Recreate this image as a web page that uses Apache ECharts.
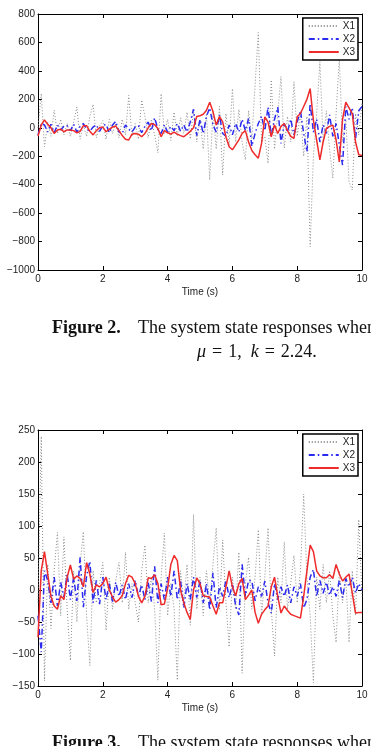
<!DOCTYPE html>
<html>
<head>
<meta charset="utf-8">
<script src="https://cdn.jsdelivr.net/npm/echarts@6/dist/echarts.min.js"></script>
<style>
  html, body { margin: 0; padding: 0; background: #fff; }
  #main { width: 371px; height: 746px; }
</style>
</head>
<body>
<div id="main"></div>
<script>
// sample times (s), shared by every series
const time = [
  0.0, 0.1, 0.2, 0.3, 0.4, 0.5, 0.6, 0.7, 0.8, 0.9,
  1.0, 1.1, 1.2, 1.3, 1.4, 1.5, 1.6, 1.7, 1.8, 1.9,
  2.0, 2.1, 2.2, 2.3, 2.4, 2.5, 2.6, 2.7, 2.8, 2.9,
  3.0, 3.1, 3.2, 3.3, 3.4, 3.5, 3.6, 3.7, 3.8, 3.9,
  4.0, 4.1, 4.2, 4.3, 4.4, 4.5, 4.6, 4.7, 4.8, 4.9,
  5.0, 5.1, 5.2, 5.3, 5.4, 5.5, 5.6, 5.7, 5.8, 5.9,
  6.0, 6.1, 6.2, 6.3, 6.4, 6.5, 6.6, 6.7, 6.8, 6.9,
  7.0, 7.1, 7.2, 7.3, 7.4, 7.5, 7.6, 7.7, 7.8, 7.9,
  8.0, 8.1, 8.2, 8.3, 8.4, 8.5, 8.6, 8.7, 8.8, 8.9,
  9.0, 9.1, 9.2, 9.3, 9.4, 9.5, 9.6, 9.7, 9.8, 9.9,
  10.0
];

// Figure 2 (mu = 1, k = 2.24)
const fig2X1 = [
  0, 240, -133, 40, -60, 123, -40, 60, -50, 30,
  -60, 40, 146, -80, 20, -60, 80, 165, -70, 10,
  50, -80, 60, -40, 30, -70, 60, -50, 228, -60,
  30, -80, 195, 80, -70, 60, -50, -175, 240, -40,
  60, -90, 110, -60, 70, -40, 110, -80, 125, -100,
  60, -150, 100, -367, 120, -150, 150, -332, 100, -120,
  275, -100, 130, -100, -226, 120, -80, 300, 670, -100,
  -60, -250, 336, -150, 100, 360, -144, 80, -100, 324,
  -60, 100, -200, 80, -836, -200, 100, 465, -100, 120,
  -150, -355, 100, 488, -100, 60, -379, -437, 100, -50,
  170
];
const fig2X2 = [
  -50, 30, 20, -30, 25, -35, 20, -15, 10, 15,
  -20, 25, -30, 10, 30, -10, -25, 5, 20, -25,
  15, 25, -35, 20, 45, -30, -40, 20, -10, -30,
  5, 15, -35, 10, 40, -20, 70, -10, -40, 20,
  -30, 10, -20, 30, -25, 20, -30, 40, 130, -55,
  60, -40, 80, 140, 20, -30, 90, -40, -60, 20,
  -50, 30, -30, 60, -20, 65, -130, -40, 30, 80,
  -20, 145, -60, 60, 145, -110, 30, -30, 60, -50,
  40, 120, -40, -168, 170, -30, 60, -100, 20, -40,
  90, -60, 30, -120, -262, 150, 60, 140, -80, 120,
  150
];
const fig2X3 = [
  -60, 20, 55, 25, 0, -40, -15, -10, -28, -15,
  -15, -20, -35, -25, 15, 15, -25, -50, -20, 0,
  5, -28, -10, 5, 12, -20, -55, -80, -86, -45,
  -40, -45, -63, -40, 0, 30, 22, -5, -63, -20,
  -35, -45, -30, -45, -55, -63, -45, -25, 0, 80,
  85, 95, 123, 180, 115, 19, 80, 42, -63, -133,
  -155, -120, -85, -40, -20, -100, -160, -190, -214, -110,
  77, 40, -63, 19, -40, 10, 30, -20, -60, -75,
  77, 100, 150, 200, 275, 53, -86, -226, -100, -5,
  10, 19, -86, -240, 60, 180, 140, 100, -100, -190,
  -195
];

// Figure 3
const fig3X1 = [
  -20, 240, -142, 40, -60, 30, 90, -40, 83, -30,
  -110, 30, -50, 40, 91, -40, -118, 30, -20, 10,
  43, -63, 20, -30, 15, 43, -20, 59, -30, 10,
  -20, -50, 30, 70, -20, 20, -30, -141, 20, 89,
  -40, 10, -30, -141, 30, -20, 40, -55, 118, -30,
  20, -40, 30, -20, 40, 97, -30, 78, -20, -89,
  20, -30, 59, -130, 10, 51, -30, 20, 94, -40,
  20, 97, -30, -103, 20, -20, 75, -30, 10, 54,
  -20, 30, 150, 20, -40, -145, 20, -30, 40, -20,
  30, -40, -82, 30, -20, 20, -82, 30, -40, 110,
  -10
];
const fig3X2 = [
  -40, -97, 30, 15, -20, 20, -25, 12, -11, 25,
  -15, 20, -17, 51, -27, 22, 45, -20, 15, -22,
  20, -15, 10, -18, 12, -10, 8, -15, 10, -12,
  15, -10, 8, -15, 12, -18, 37, -20, 10, -15,
  20, -10, 30, -15, 14, -28, 10, -15, 20, -12,
  15, -20, 10, -31, 27, -28, 5, -10, 15, -12,
  10, -25, -39, 40, -10, 15, 14, -17, 5, -10,
  14, -20, -36, 10, -15, 5, -10, 8, -20, 5,
  -10, 10, -28, -15, 20, 32, -10, 15, -5, 12,
  -8, 5, -10, 15, -12, 18, 5, 20, -5, 10,
  0
];
const fig3X3 = [
  -74, 30, 60, 25, -10, -25, -30, -9, -15, 20,
  39, 17, 22, 18, 5, 43, 25, -4, 8, 5,
  10, 20, 0, -11, -19, -15, -9, 10, 23, 20,
  10, -10, -20, -10, 19, 18, 24, 10, -23, -22,
  2, 40, 54, 46, 0, -20, -35, -46, 0, 19,
  10, -9, -10, -11, -25, -38, -20, -20, 5, 30,
  5, -9, 10, 18, -15, -8, 0, -35, -52, -38,
  -31, -25, 5, 20, -10, -36, -25, -32, -38, -40,
  -42, -44, -10, 30, 70, 60, 30, 22, 19, 19,
  24, 18, 40, 25, 14, 20, 25, -5, -36, -35,
  -35
];

const xTicks = [0, 2, 4, 6, 8, 10];
const fig2YRange = [-1000, 800, 200];
const fig3YRange = [-150, 250, 50];

const seriesNames = ['X1', 'X2', 'X3'];
const styles = {
  X1: { color: '#8a8a8a', width: 1, type: [1, 2] },
  X2: { color: '#2b2bf0', width: 1.5, type: [6, 3, 1.5, 3] },
  X3: { color: '#ee2a2a', width: 1.5, type: 'solid' }
};

const chart = echarts.init(document.getElementById('main'));
const font = 'Liberation Sans, Arial, sans-serif';
const serif = '"Liberation Serif", "Times New Roman", serif';
const minus = v => String(v).replace('-', '\u2212');

function pairs(ys) { return time.map((t, i) => [t, ys[i]]); }

function xAxes(gridIndex) {
  const base = {
    type: 'value', gridIndex: gridIndex,
    min: xTicks[0], max: xTicks[xTicks.length - 1], interval: 2,
    splitLine: { show: false },
    axisLine: { show: true, onZero: false, lineStyle: { color: '#000', width: 1 } },
    axisTick: { show: true, inside: true, length: 4, lineStyle: { color: '#000' } }
  };
  return [
    Object.assign({}, base, {
      position: 'bottom',
      name: 'Time (s)', nameLocation: 'middle', nameGap: 17,
      nameTextStyle: { fontFamily: font, fontSize: 10, color: '#222' },
      axisLabel: { fontFamily: font, fontSize: 10, color: '#222', margin: 4 }
    }),
    Object.assign({}, base, { position: 'top', axisLabel: { show: false } })
  ];
}

function yAxes(gridIndex, range) {
  const base = {
    type: 'value', gridIndex: gridIndex,
    min: range[0], max: range[1], interval: range[2],
    splitLine: { show: false },
    axisLine: { show: true, onZero: false, lineStyle: { color: '#000', width: 1 } },
    axisTick: { show: true, inside: true, length: 4, lineStyle: { color: '#000' } }
  };
  return [
    Object.assign({}, base, {
      position: 'left',
      axisLabel: { fontFamily: font, fontSize: 10, color: '#222', margin: 3, formatter: minus }
    }),
    Object.assign({}, base, { position: 'right', axisLabel: { show: false } })
  ];
}

function makeSeries(axisIdx, data) {
  return seriesNames.map((name, i) => ({
    name: name, type: 'line',
    xAxisIndex: axisIdx, yAxisIndex: axisIdx,
    data: pairs(data[i]),
    symbol: 'none', silent: true,
    lineStyle: styles[name], itemStyle: { color: styles[name].color },
    z: 2 + i
  }));
}

function legendAt(top) {
  return {
    data: seriesNames, right: 13, top: top, orient: 'vertical',
    backgroundColor: '#fff', borderColor: '#000', borderWidth: 1.5,
    padding: [3, 3, 3, 5], itemGap: 3, itemWidth: 30, itemHeight: 10,
    itemStyle: { color: 'rgba(0,0,0,0)', borderWidth: 0 },
    textStyle: { fontFamily: font, fontSize: 10, color: '#222', padding: [0, 0, 0, -1] },
    selectedMode: false
  };
}

function caption(text, top, left) {
  return {
    type: 'text', left: left, top: top,
    style: {
      text: text, font: '18px ' + serif, fill: '#111',
      rich: {
        b: { fontWeight: 'bold', fontSize: 18, fontFamily: 'Liberation Serif' },
        i: { fontStyle: 'italic', fontSize: 18, fontFamily: 'Liberation Serif' }
      }
    }
  };
}

chart.setOption({
  animation: false,
  grid: [
    { left: 38, top: 14, width: 324, height: 256 },
    { left: 38, top: 430, width: 324, height: 256 }
  ],
  xAxis: [].concat(xAxes(0), xAxes(1)),
  yAxis: [].concat(yAxes(0, fig2YRange), yAxes(1, fig3YRange)),
  legend: [legendAt(18), legendAt(434)],
  series: [].concat(
    makeSeries(0, [fig2X1, fig2X2, fig2X3]),
    makeSeries(2, [fig3X1, fig3X2, fig3X3])
  ),
  graphic: [
    caption('{b|Figure 2.}', 319, 52),
    caption('The system state responses when', 319, 138),
    caption('{i|\u03bc}\u2004=\u20041,\u2002{i|k}\u2004=\u20042.24.', 343, 197),
    caption('{b|Figure 3.}', 734, 52),
    caption('The system state responses when', 734, 138)
  ]
});
</script>
</body>
</html>
